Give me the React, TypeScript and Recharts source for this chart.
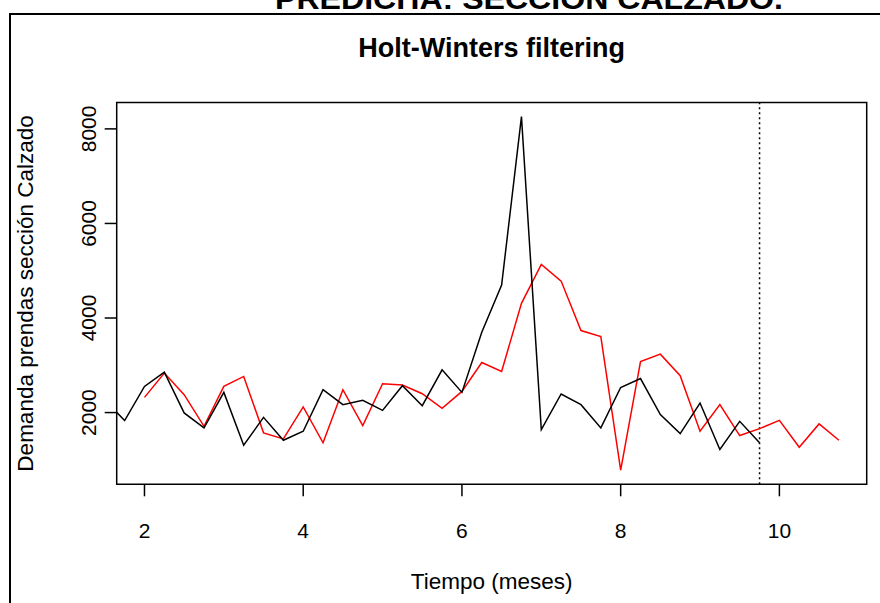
import { LineChart, Line, XAxis, YAxis, ReferenceArea, ReferenceLine } from 'recharts'

// series are quarterly points on the "meses" scale
const STEP = 0.25

// observed demand (black); first point sits just left of the plot window
const observedStart = 1.5
const observed = [
  2270, 1830, 2553, 2857, 1992, 1676, 2427, 1309, 1899, 1415, 1604, 2483,
  2167, 2258, 2047, 2568, 2146, 2905, 2427, 3700, 4697, 8259, 1640, 2393,
  2167, 1676, 2530, 2720, 1956, 1556, 2203, 1219, 1815, 1360,
]

// Holt-Winters fitted values followed by the forecast (red)
const fittedStart = 2
const fitted = [
  2321, 2835, 2378, 1710, 2553, 2764, 1571, 1444, 2119, 1360, 2483, 1725,
  2610, 2583, 2399, 2090, 2448, 3059, 2869, 4311, 5133, 4781, 3734, 3607,
  782, 3080, 3236, 2779, 1604, 2167, 1514, 1661, 1836, 1267, 1760, 1415,
]

const xTicks = [2, 4, 6, 8, 10]
const yTicks = [2000, 4000, 6000, 8000]

const observedData = observed.map((v, i) => ({ t: observedStart + i * STEP, v }))
const fittedData = fitted.map((v, i) => ({ t: fittedStart + i * STEP, v }))

// last observed time -> dotted separator
const separatorAt = observedData[observedData.length - 1].t

// R style axis range: data range widened by 4% on each side
function padRange(lo: number, hi: number): [number, number] {
  const d = (hi - lo) * 0.04
  return [lo - d, hi + d]
}
const xDomain = padRange(fittedData[0].t, fittedData[fittedData.length - 1].t)
const allValues = [...observed, ...fitted]
const yDomain = padRange(Math.min(...allValues), Math.max(...allValues))

const W = 880
const H = 603
const FONT = '"Liberation Sans", Arial, sans-serif'

const XTick = ({ x, y, payload }: any) => (
  <text x={x} y={y} textAnchor="middle" fontSize={21} fontFamily={FONT} fill="#000">
    {payload.value}
  </text>
)

const YTick = ({ x, y, payload }: any) => (
  <text
    x={x}
    y={y}
    transform={`rotate(-90 ${x} ${y})`}
    textAnchor="middle"
    fontSize={21}
    fontFamily={FONT}
    fill="#000"
  >
    {payload.value}
  </text>
)

export default function App() {
  return (
    <div style={{ position: 'fixed', left: 0, top: 0, width: W, height: H, overflow: 'hidden', background: '#fff' }}>
      <LineChart width={W} height={H} margin={{ top: 102.5, right: 13.3, bottom: 0, left: 0 }}>
        <XAxis
          type="number"
          dataKey="t"
          domain={xDomain}
          ticks={xTicks}
          allowDataOverflow
          axisLine={false}
          tickLine={{ stroke: '#000', strokeWidth: 1.5 }}
          tickSize={12}
          tickMargin={42}
          tick={XTick}
          height={118.7}
        />
        <YAxis
          type="number"
          domain={yDomain}
          ticks={yTicks}
          allowDataOverflow
          axisLine={false}
          tickLine={{ stroke: '#000', strokeWidth: 1.5 }}
          tickSize={12}
          tickMargin={8.7}
          tick={YTick}
          width={116.7}
        />
        <ReferenceArea
          x1={xDomain[0]}
          x2={xDomain[1]}
          y1={yDomain[0]}
          y2={yDomain[1]}
          fill="none"
          stroke="#000"
          strokeWidth={1.5}
          ifOverflow="visible"
        />
        <ReferenceLine x={separatorAt} stroke="#000" strokeWidth={1.5} strokeDasharray="2 3" />
        <Line
          data={fittedData}
          dataKey="v"
          type="linear"
          stroke="#ff0000"
          strokeWidth={1.5}
          dot={false}
          isAnimationActive={false}
        />
        <Line
          data={observedData}
          dataKey="v"
          type="linear"
          stroke="#000"
          strokeWidth={1.5}
          dot={false}
          isAnimationActive={false}
        />
      </LineChart>

      <svg
        width={W}
        height={H}
        style={{ position: 'absolute', left: 0, top: 0, pointerEvents: 'none' }}
        fontFamily={FONT}
      >
        <text
          x={275}
          y={8.5}
          fontSize={30}
          fontWeight="bold"
          textLength={508}
          lengthAdjust="spacingAndGlyphs"
          fill="#000"
        >
          PREDICHA: SECCIÓN CALZADO.
        </text>
        <polyline points={`10,${H} 10,14 ${W},14`} fill="none" stroke="#000" strokeWidth={2} />
        <text x={491.7} y={57} textAnchor="middle" fontSize={27} fontWeight="bold" fill="#000">
          Holt-Winters filtering
        </text>
        <text x={491.7} y={589} textAnchor="middle" fontSize={22.5} fill="#000">
          Tiempo (meses)
        </text>
        <text
          x={33}
          y={293.4}
          transform="rotate(-90 33 293.4)"
          textAnchor="middle"
          fontSize={22.5}
          fill="#000"
        >
          Demanda prendas sección Calzado
        </text>
      </svg>
    </div>
  )
}
